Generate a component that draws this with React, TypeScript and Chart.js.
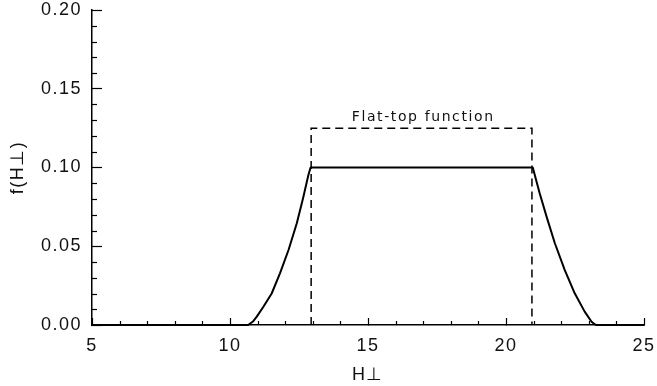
import React, { useEffect, useRef } from 'react';
import { Chart, registerables } from 'chart.js';

Chart.register(...registerables);

// ---- data ----
const curveX = [5, 10.66, 10.83, 10.97, 11.21, 11.51, 11.81, 12.12, 12.42, 12.66, 12.84, 12.92, 20.97, 21.22, 21.47, 21.77, 22.13, 22.49, 22.85, 23.1, 23.2, 23.28, 25];
const curveY = [0, 0, 0.0022, 0.0053, 0.0116, 0.020, 0.0328, 0.0476, 0.0646, 0.0815, 0.0952, 0.100, 0.100, 0.0836, 0.0688, 0.0519, 0.0349, 0.0201, 0.0085, 0.0021, 0.0006, 0, 0];

const boxX = [12.94, 12.94, 20.94, 20.94];
const boxY = [0, 0.125, 0.125, 0];

const boxLabel = 'Flat-top function';
const boxLabelX = 17;
const boxLabelY = 0.132;

const xMin = 5, xMax = 25, xMajorStep = 5, xMinorStep = 1;
const yMin = 0, yMax = 0.2, yMajorStep = 0.05, yMinorStep = 0.01;

const xTitle = 'H\u22A5';
const yTitle = 'f(H\u22A5)';

const tickFont = { family: '"Liberation Sans", Arial, sans-serif', size: 18, lineHeight: 1.1 };

const letterSpacingPlugin = {
  id: 'letterSpacing',
  beforeDraw(chart: any) {
    (chart.ctx as any).letterSpacing = '1.5px';
  },
};

const minorTicksPlugin = {
  id: 'minorTicks',
  afterDraw(chart: any) {
    const { ctx, scales, chartArea } = chart;
    const x = scales.x, y = scales.y;
    ctx.save();
    ctx.strokeStyle = '#000';
    ctx.lineWidth = 1.2;
    const nx = Math.round((xMax - xMin) / xMinorStep);
    for (let i = 0; i <= nx; i++) {
      const v = xMin + i * xMinorStep;
      const r = (v - xMin) / xMajorStep;
      if (Math.abs(r - Math.round(r)) < 1e-6) continue;
      const px = Math.round(x.getPixelForValue(v)) + 0.5;
      ctx.beginPath();
      ctx.moveTo(px, chartArea.bottom);
      ctx.lineTo(px, chartArea.bottom - 4);
      ctx.stroke();
    }
    const ny = Math.round((yMax - yMin) / yMinorStep);
    for (let i = 0; i <= ny; i++) {
      const v = yMin + i * yMinorStep;
      const r = (v - yMin) / yMajorStep;
      if (Math.abs(r - Math.round(r)) < 1e-6) continue;
      const py = Math.round(y.getPixelForValue(v)) + 0.5;
      ctx.beginPath();
      ctx.moveTo(chartArea.left, py);
      ctx.lineTo(chartArea.left + 5, py);
      ctx.stroke();
    }
    ctx.restore();
  },
};

const labelPlugin = {
  id: 'boxLabel',
  afterDraw(chart: any) {
    const { ctx, scales } = chart;
    ctx.save();
    ctx.font = '14px "DejaVu Sans", sans-serif';
    (ctx as any).letterSpacing = '1.6px';
    ctx.fillStyle = '#111';
    ctx.textAlign = 'center';
    ctx.textBaseline = 'middle';
    ctx.fillText(boxLabel, scales.x.getPixelForValue(boxLabelX), scales.y.getPixelForValue(boxLabelY));
    ctx.restore();
  },
};

export default function App() {
  const ref = useRef<HTMLCanvasElement | null>(null);

  useEffect(() => {
    document.body.style.margin = '0';
    const canvas = ref.current;
    if (!canvas) return;
    const chart = new Chart(canvas, {
      type: 'scatter',
      data: {
        datasets: [
          {
            data: curveX.map((v, i) => ({ x: v, y: curveY[i] })),
            showLine: true,
            borderColor: '#000',
            borderWidth: 2,
            pointRadius: 0,
            tension: 0,
            borderJoinStyle: 'round',
            fill: false,
          },
          {
            data: boxX.map((v, i) => ({ x: v, y: boxY[i] })),
            showLine: true,
            borderColor: '#000',
            borderWidth: 1.5,
            borderDash: [8, 5],
            pointRadius: 0,
            tension: 0,
            fill: false,
          },
        ],
      },
      options: {
        animation: false,
        responsive: false,
        devicePixelRatio: 1,
        clip: false as any,
        layout: { padding: { top: 10, right: 13, left: 0, bottom: 0 } },
        plugins: { legend: { display: false }, tooltip: { enabled: false } },
        scales: {
          x: {
            type: 'linear',
            min: xMin,
            max: xMax,
            afterFit(scale: any) {
              scale.height = 61;
              scale.paddingLeft = 0;
              scale.paddingRight = 0;
            },
            ticks: { stepSize: xMajorStep, color: '#111', font: tickFont, padding: 18, maxRotation: 0 },
            grid: { drawOnChartArea: false, drawTicks: true, tickLength: -7, tickColor: '#000', tickWidth: 1.2 },
            border: { display: true, color: '#000', width: 1.5 },
            title: { display: true, text: xTitle, color: '#111', font: { family: '"Liberation Sans", Arial, sans-serif', size: 18 }, padding: { top: 3, bottom: 0 } },
          },
          y: {
            type: 'linear',
            min: yMin,
            max: yMax,
            afterFit(scale: any) {
              scale.width = 92;
              scale.paddingTop = 0;
              scale.paddingBottom = 0;
            },
            ticks: { stepSize: yMajorStep, color: '#111', font: tickFont, padding: 20, callback: (v: any) => Number(v).toFixed(2) },
            grid: { drawOnChartArea: false, drawTicks: true, tickLength: -10, tickColor: '#000', tickWidth: 1.2 },
            border: { display: true, color: '#000', width: 1.5 },
            title: { display: true, text: yTitle, color: '#111', font: { family: '"Liberation Sans", Arial, sans-serif', size: 18 }, padding: { top: 7, bottom: 0 } },
          },
        },
      } as any,
      plugins: [letterSpacingPlugin, minorTicksPlugin, labelPlugin],
    });
    return () => chart.destroy();
  }, []);

  return (
    <div style={{ width: 657, height: 386, background: '#fff' }}>
      <canvas ref={ref} width={657} height={386} style={{ display: 'block' }} />
    </div>
  );
}
